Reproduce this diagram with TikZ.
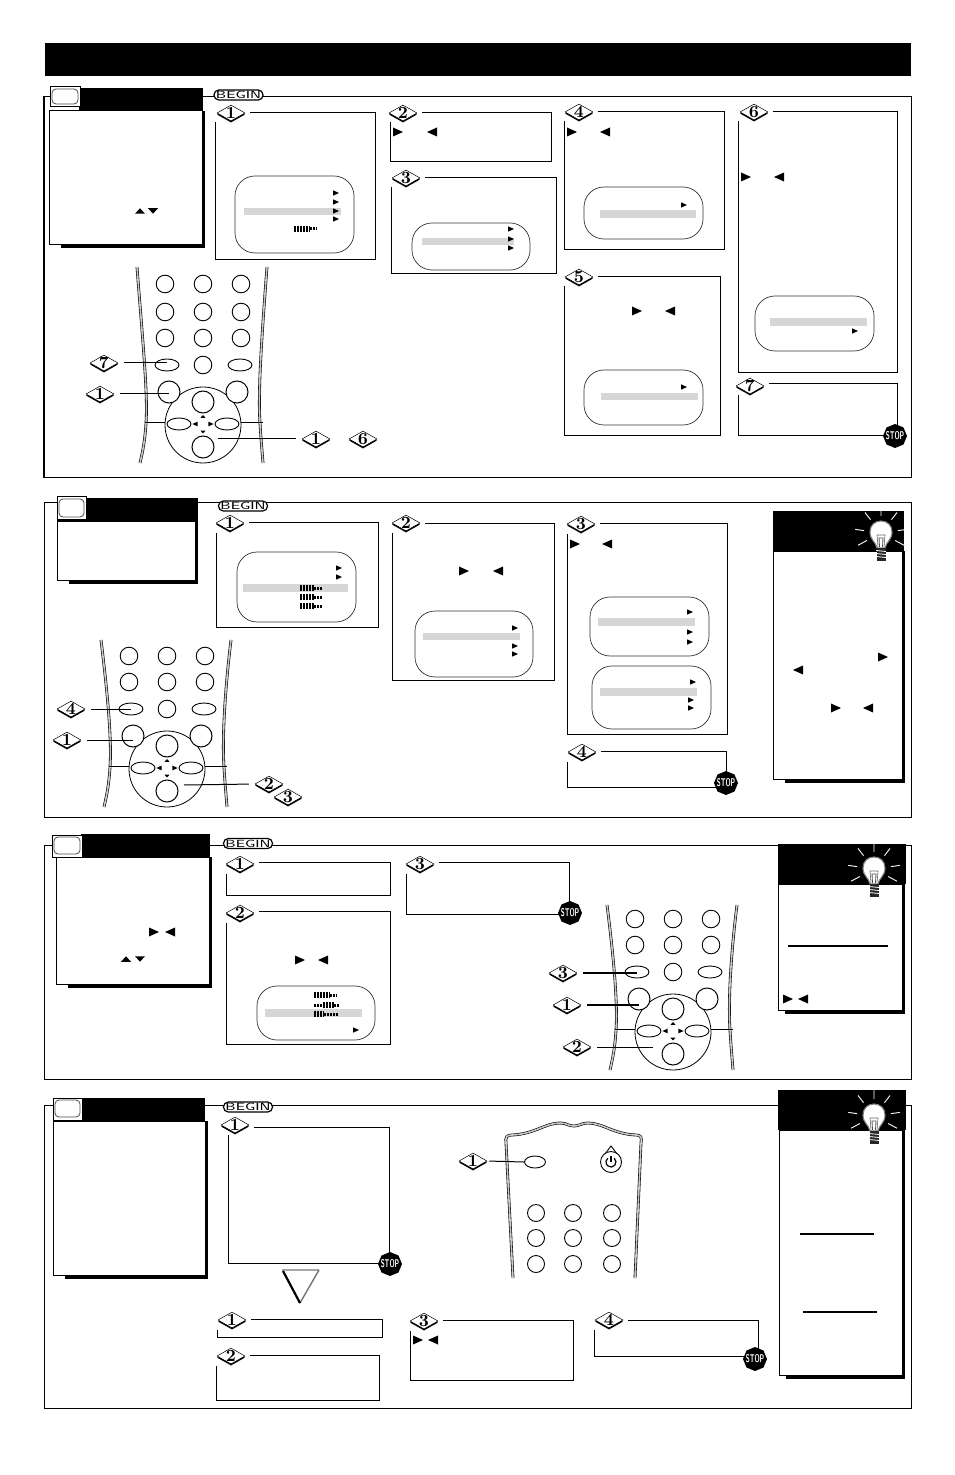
\documentclass[tikz,border=0pt]{standalone}
\usepackage{xcolor}
\usepackage{tikz}
\usetikzlibrary{shapes.geometric, positioning, calc, fit}
\definecolor{menuGray}{RGB}{214,214,214}
\definecolor{railGray}{RGB}{200,200,200}

\tikzset{
    sectionframe/.style={draw, line width=0.5pt, inner sep=0pt},
    framebar/.style={line width=0.9pt},
    stepcard/.style={draw, line width=0.5pt, inner sep=0pt},
    badgegap/.style={rectangle, fill=white, minimum width=19pt, minimum height=9.5pt, inner sep=0pt},
    badgeshade/.style={diamond, fill=black, minimum width=14pt, minimum height=8pt, inner sep=0pt},
    badge/.style={diamond, draw, line width=0.25pt, fill=white, minimum width=14pt, minimum height=8pt, inner sep=0pt},
    badgenum/.style={font=\fontsize{8.5}{8.5}\selectfont\bfseries, inner sep=0pt},
    menubox/.style={draw=black!80, line width=0.35pt, rounded corners=10pt, inner sep=0pt},
    menubar/.style={fill=menuGray, inner sep=0pt},
    panelshade/.style={fill=black, inner sep=0pt},
    panelbody/.style={draw, fill=white, line width=0.5pt, inner sep=0pt},
    panelhead/.style={fill=black, inner sep=0pt},
    tvcase/.style={draw, fill=white, line width=0.5pt, inner sep=0pt},
    tvscreen/.style={draw=black!70, fill=white, line width=0.4pt, rounded corners=2pt, inner sep=0pt},
    beginpill/.style={draw, fill=white, line width=0.6pt, rounded corners=2.4pt, minimum width=24.5pt, minimum height=5pt, inner sep=0pt, font=\fontsize{5.2}{5.2}\selectfont\sffamily},
    stopsign/.style={regular polygon, regular polygon sides=8, shape border rotate=22.5, fill=black, minimum size=12pt, inner sep=0pt},
    stopword/.style={text=white, inner sep=0pt, font=\fontsize{5.6}{5.6}\selectfont\sffamily\bfseries},
    keyround/.style={circle, draw, fill=white, line width=0.45pt, minimum size=8.8pt, inner sep=0pt},
    keywide/.style={ellipse, draw, fill=white, line width=0.45pt, minimum width=12pt, minimum height=6pt, inner sep=0pt},
    keyfat/.style={circle, draw, fill=white, line width=0.5pt, minimum size=11pt, inner sep=0pt},
    keydial/.style={circle, draw, fill=white, line width=0.4pt, minimum size=38pt, inner sep=0pt},
    rail/.style={draw=black, line width=0.3pt, double=railGray, double distance=0.8pt},
    leader/.style={line width=0.5pt, shorten <=3pt},
    heavyleader/.style={line width=0.8pt, shorten <=3pt},
    rule/.style={line width=0.8pt}
}

% triangles, size in picture units
\newcommand{\tipR}[2]{\fill #1 ++(-#2,-0.9*#2) -- ++(2*#2,0.9*#2) -- ++(-2*#2,0.9*#2) -- cycle;}
\newcommand{\tipL}[2]{\fill #1 ++(#2,-0.9*#2) -- ++(-2*#2,0.9*#2) -- ++(2*#2,0.9*#2) -- cycle;}
\newcommand{\tipU}[2]{\fill #1 ++(-#2,0.55*#2) -- ++(#2,-1.1*#2) -- ++(#2,1.1*#2) -- cycle;}
\newcommand{\tipD}[2]{\fill #1 ++(-#2,-0.55*#2) -- ++(#2,1.1*#2) -- ++(#2,-1.1*#2) -- cycle;}

% numbered diamond
\newcommand{\tagmark}[3]{
    \node[badgeshade] (#1s) at ($#2+(0,1.6)$) {};
    \node[badge] (#1) at #2 {};
    \node[badgenum] (#1n) at #2 {#3};
}
% box with its diamond on the corner
\newcommand{\stepbox}[5]{
    \node[stepcard, fit={#2 #3}] (#1) {};
    \node[badgegap] (#1g) at #4 {};
    \tagmark{#1t}{#4}{#5}
}
% stop sign
\newcommand{\stopat}[2]{
    \node[stopsign] (#1) at #2 {};
    \node[stopword] (#1w) at #2 {\scalebox{0.58}[1]{STOP}};
}
% black header, white body, thick shadow
\newcommand{\infopanel}[6][12]{
    \node[panelshade, fit={($#5+(#1,0)$) ($#6+(3,3.5)$)}] (#2s) {};
    \node[panelbody, fit={#5 #6}] (#2) {};
    \node[panelhead, fit={#3 #4}] (#2h) {};
}
\newcommand{\tvicon}[3]{
    \node[tvcase, fit={#2 #3}] (#1) {};
    \node[tvscreen, fit={($#2+(2,2)$) ($#3+(-2,-3)$)}] (#1i) {};
}
\newcommand{\levelbar}[4]{
    \draw[line width=1.5pt, dash pattern=on 1pt off 0.5pt] #1 ++(0,0) -- ++(#2,0);
    \draw[line width=3pt, dash pattern=on 1pt off 0.5pt] #1 ++(#2,0) -- ++(#3,0);
    \draw[line width=1.5pt, dash pattern=on 1pt off 0.5pt] #1 ++(#2+#3,0) -- ++(#4,0);
}
\newcommand{\bulbat}[2]{
    \begin{scope}[shift={#2}]
        \draw[white, line width=0.45pt] (-90:17) -- (-90:27) (-52:17) -- (-52:26) (-128:17) -- (-128:26) (-8:17) -- (-8:26) (-172:17) -- (-172:26) (28:16) -- (28:26) (152:16) -- (152:26);
        \draw[draw=black!50, fill=white, line width=0.55pt] (-4,15) .. controls (-5,9) and (-11,7) .. (-11,-1) .. controls (-11,-8) and (-6,-12) .. (0,-12) .. controls (6,-12) and (11,-8) .. (11,-1) .. controls (11,7) and (5,9) .. (4,15) -- cycle;
        \draw[black!60, line width=0.3pt] (-3,14) -- (-4,2) -- (4,2) -- (3,14);
        \draw[black!70, line width=0.4pt] (-1.5,14) -- (-2,5) -- (2,5) -- (1.5,14);
        \fill[black!85] (-4.5,15) rectangle (4.5,28);
        \draw[white, line width=0.4pt] (-5,17.5) -- (5,18.5) (-5,20.5) -- (5,21.5) (-5,23.5) -- (5,24.5);
    \end{scope}
}
% pad shared by three remotes
\newcommand{\remotepad}[3]{
    \begin{scope}[shift={#2}]
        \draw[rail] (-66,#3) .. controls (-60,-80) and (-55,-30) .. (-57,-2) .. controls (-58,15) and (-60,25) .. (-63,38);
        \draw[rail] (64,#3) .. controls (58,-80) and (55,-30) .. (57,-2) .. controls (58,15) and (59,25) .. (60,38);
        \node[keyround] (#1a) at (-38,-113) {};
        \node[keyround] (#1b) at (0,-113) {};
        \node[keyround] (#1c) at (38,-113) {};
        \node[keyround] (#1d) at (-38,-87) {};
        \node[keyround] (#1e) at (0,-87) {};
        \node[keyround] (#1f) at (38,-87) {};
        \node[keywide] (#1g) at (-36,-60) {};
        \node[keyround] (#1h) at (0,-60) {};
        \node[keywide] (#1i) at (37,-60) {};
        \node[keydial] (#1dial) at (0,0) {};
        \node[keyfat] (#1sl) at (-34,-33) {};
        \node[keyfat] (#1sr) at (34,-33) {};
        \node[keyfat] (#1up) at (0,-23) {};
        \node[keyfat] (#1dn) at (0,22) {};
        \node[keywide] (#1lt) at (-24,-1) {};
        \node[keywide] (#1rt) at (24,-1) {};
        \tipU{(0,-8.5)}{2.6}
        \tipD{(0,7)}{2.6}
        \tipL{(-8,-1)}{2.6}
        \tipR{(8,-1)}{2.6}
        \draw[line width=0.5pt] (#1dial.176) -- ++(-20,0);
        \draw[line width=0.5pt] (#1dial.4) -- ++(22,0);
    \end{scope}
}

\begin{document}
\begin{tikzpicture}[x=0.5pt, y=-0.5pt]
    \useasboundingbox (0,0) rectangle (954,1475);

    \node[panelhead, fit={(45,43) (911,76)}] (titlebar) {};

    % Section frames
    \node[sectionframe, fit={(44,97) (911,478)}] (frameA) {};
    \draw[framebar] (frameA.north west) -- (frameA.south west);
    \node[sectionframe, fit={(44,503) (911,817)}] (frameB) {};
    \node[sectionframe, fit={(44,845) (911,1079)}] (frameC) {};
    \node[sectionframe, fit={(44,1105) (911,1408)}] (frameD) {};
    \draw[framebar] (frameD.south west) -- (frameD.south east);

    % First section
    \infopanel{panA}{(79,88)}{(203,111)}{(49,111)}{(202,245)}
    \tvicon{tvA}{(50,87)}{(80,107)}
    \tipU{(140,211)}{5}
    \tipD{(153,211)}{5}
    \node[beginpill] (beginA) at (238.5,95) {\scalebox{1.4}[1]{BEGIN}};

    \stepbox{boxAa}{(215,113)}{(375,260)}{(231,113)}{1}
    \node[menubox, fit={(235,176) (354,253)}] (menuAa) {};
    \node[menubar, fit={(244,208) (341,215)}] (barAa) {};
    \tipR{(336,193)}{3}
    \tipR{(336,202)}{3}
    \tipR{(336,211)}{3}
    \tipR{(336,219)}{3}
    \levelbar{(294,229)}{0}{16}{7}

    \stepbox{boxAb}{(390,113)}{(551,162)}{(403,113)}{2}
    \tipR{(398,132)}{5}
    \tipL{(432,132)}{5}

    \stepbox{boxAc}{(391,178)}{(556,274)}{(406,178)}{3}
    \node[menubox, fit={(412,223) (530,270)}] (menuAc) {};
    \node[menubar, fit={(422,238) (514,245)}] (barAc) {};
    \tipR{(511,229)}{3}
    \tipR{(511,239)}{3}
    \tipR{(511,248)}{3}

    \stepbox{boxAd}{(564,112)}{(724,250)}{(579,112)}{4}
    \tipR{(572,132)}{5}
    \tipL{(605,132)}{5}
    \node[menubox, fit={(584,187) (703,239)}] (menuAd) {};
    \node[menubar, fit={(600,210) (696,218)}] (barAd) {};
    \tipR{(684,205)}{3}

    \stepbox{boxAe}{(564,277)}{(720,436)}{(579,277)}{5}
    \tipR{(637,311)}{5}
    \tipL{(670,311)}{5}
    \node[menubox, fit={(584,370) (703,425)}] (menuAe) {};
    \node[menubar, fit={(601,393) (698,400)}] (barAe) {};
    \tipR{(684,387)}{3}

    \stepbox{boxAf}{(738,112)}{(897,373)}{(754,112)}{6}
    \tipR{(746,177)}{5}
    \tipL{(779,177)}{5}
    \node[menubox, fit={(755,296) (874,351)}] (menuAf) {};
    \node[menubar, fit={(770,318) (867,326)}] (barAf) {};
    \tipR{(855,331)}{3}

    \stepbox{boxAg}{(738,384)}{(897,436)}{(750,386)}{7}
    \stopat{stopA}{(895,436)}

    % First remote
    \remotepad{keyA}{(203,425)}{-158}
    \node[keyround] (keyAx) at (165,284) {};
    \node[keyround] (keyAy) at (203,284) {};
    \node[keyround] (keyAz) at (241,284) {};
    \tagmark{callAg}{(104,363)}{7}
    \draw[leader] (callAg.east) -- (callAg.east -| keyAg.center);
    \tagmark{callAa}{(100,394)}{1}
    \draw[leader] (callAa.east) -- (callAa.east -| keyAsl.center);
    \tagmark{callAb}{(316,439)}{1}
    \coordinate (hitA) at (218,439);
    \draw[leader] (callAb.west) -- (hitA);
    \tagmark{callAf}{(363,439)}{6}

    % Second section
    \infopanel{panB}{(85,498)}{(198,521)}{(57,521)}{(195,580)}
    \tvicon{tvB}{(57,497)}{(86,520)}
    \node[beginpill] (beginB) at (243,506) {\scalebox{1.4}[1]{BEGIN}};

    \stepbox{boxBa}{(216,522)}{(378,627)}{(230,523)}{1}
    \node[menubox, fit={(237,552) (356,622)}] (menuBa) {};
    \node[menubar, fit={(243,584) (348,592)}] (barBa) {};
    \tipR{(339,568)}{3}
    \tipR{(339,577)}{3}
    \levelbar{(300,588)}{0}{14}{8}
    \levelbar{(300,597)}{0}{14}{8}
    \levelbar{(300,606)}{0}{14}{8}

    \stepbox{boxBb}{(392,523)}{(554,680)}{(406,523)}{2}
    \tipR{(464,571)}{5}
    \tipL{(498,571)}{5}
    \node[menubox, fit={(415,611) (533,677)}] (menuBb) {};
    \node[menubar, fit={(423,633) (520,640)}] (barBb) {};
    \tipR{(515,628)}{3}
    \tipR{(515,646)}{3}
    \tipR{(515,654)}{3}

    \stepbox{boxBc}{(567,523)}{(727,734)}{(581,524)}{3}
    \tipR{(575,544)}{5}
    \tipL{(607,544)}{5}
    \node[menubox, fit={(590,597) (709,656)}] (menuBc) {};
    \node[menubar, fit={(598,618) (695,626)}] (barBc) {};
    \tipR{(690,612)}{3}
    \tipR{(690,632)}{3}
    \tipR{(690,642)}{3}
    \node[menubox, fit={(592,666) (711,729)}] (menuBd) {};
    \node[menubar, fit={(600,688) (697,696)}] (barBd) {};
    \tipR{(693,682)}{3}
    \tipR{(691,700)}{3}
    \tipR{(691,708)}{3}

    \stepbox{boxBd}{(567,751)}{(726,787)}{(582,752)}{4}
    \stopat{stopB}{(726,783)}

    \infopanel{hintA}{(773,511)}{(904,551)}{(773,551)}{(902,779)}
    \bulbat{bulbA}{(881,533)}
    \tipR{(883,657)}{5}
    \tipL{(798,670)}{5}
    \tipR{(836,708)}{5}
    \tipL{(868,708)}{5}

    % Second remote
    \remotepad{keyB}{(167,769)}{-129}
    \tagmark{callBd}{(71,709)}{4}
    \draw[leader] (callBd.east) -- (callBd.east -| keyBg.center);
    \tagmark{callBa}{(67,740)}{1}
    \draw[leader] (callBa.east) -- (callBa.east -| keyBsl.center);
    \tagmark{callBb}{(269,784)}{2}
    \coordinate (hitB) at (184,785);
    \draw[leader] (callBb.west) -- (hitB);
    \tagmark{callBc}{(288,797)}{3}

    % Third section
    \infopanel{panC}{(81,834)}{(210,857)}{(56,857)}{(209,984)}
    \tvicon{tvC}{(52,835)}{(82,857)}
    \tipR{(154,932)}{5}
    \tipL{(170,932)}{5}
    \tipU{(126,959)}{5}
    \tipD{(140,959)}{5}
    \node[beginpill] (beginC) at (248,843.5) {\scalebox{1.4}[1]{BEGIN}};

    \stepbox{boxCa}{(226,862)}{(390,895)}{(240,864)}{1}
    \stepbox{boxCb}{(226,911)}{(390,1044)}{(240,913)}{2}
    \tipR{(300,960)}{5}
    \tipL{(323,960)}{5}
    \node[menubox, fit={(257,986) (375,1040)}] (menuCb) {};
    \node[menubar, fit={(265,1009) (362,1017)}] (barCb) {};
    \levelbar{(314,995)}{0}{16}{7}
    \levelbar{(314,1005)}{9}{11}{6}
    \levelbar{(314,1014)}{0}{10}{14}
    \tipR{(356,1030)}{3}

    \stepbox{boxCc}{(406,862)}{(569,914)}{(420,864)}{3}
    \stopat{stopC}{(570,913)}

    \infopanel[7]{hintB}{(778,844)}{(906,884)}{(778,884)}{(902,1010)}
    \bulbat{bulbB}{(874,869)}
    \draw[rule] (788,946) -- (888,946);
    \tipR{(788,999)}{5}
    \tipL{(803,999)}{5}

    % Third remote
    \remotepad{keyC}{(673,1032)}{-127}
    \tagmark{callCc}{(563,973)}{3}
    \draw[heavyleader] (callCc.east) -- (callCc.east -| keyCg.center);
    \tagmark{callCa}{(567,1005)}{1}
    \draw[heavyleader] (callCa.east) -- (callCa.east -| keyCsl.center);
    \tagmark{callCb}{(577,1047)}{2}
    \coordinate (hitC) at (653,1047);
    \draw[leader] (callCb.east) -- (hitC);

    % Fourth section
    \infopanel{panD}{(82,1098)}{(205,1121)}{(53,1121)}{(205,1275)}
    \tvicon{tvD}{(53,1098)}{(82,1120)}
    \node[beginpill] (beginD) at (248,1107) {\scalebox{1.4}[1]{BEGIN}};

    \stepbox{boxDa}{(228,1127)}{(389,1263)}{(235,1125)}{1}
    \stopat{stopD}{(390,1264)}

    % arrow to the lower row
    \fill[white] (282,1270) -- (319,1270) -- (300,1303) -- cycle;
    \draw[black!35, line width=0.7pt] (282,1270) -- (319,1270);
    \draw[black!55, line width=0.7pt] (319,1270) -- (300,1303);
    \draw[line width=1.1pt] (283,1271) -- (300,1303);

    \stepbox{boxDb}{(217,1319)}{(382,1337)}{(232,1320)}{1}
    \stepbox{boxDc}{(216,1355)}{(379,1400)}{(231,1356)}{2}
    \stepbox{boxDd}{(410,1320)}{(573,1380)}{(424,1321)}{3}
    \tipR{(418,1340)}{5}
    \tipL{(433,1340)}{5}
    \stepbox{boxDe}{(594,1320)}{(758,1356)}{(609,1320)}{4}
    \stopat{stopE}{(755,1359)}

    \infopanel[7]{hintC}{(778,1090)}{(906,1130)}{(779,1130)}{(902,1375)}
    \bulbat{bulbC}{(874,1116)}
    \draw[rule] (800,1234) -- (874,1234);
    \draw[rule] (803,1312) -- (877,1312);

    % Fourth remote
    \draw[rail] (513,1278) -- (506,1143) .. controls (505,1137) and (507,1135) .. (512,1135) .. controls (535,1134) and (545,1123) .. (560,1123) .. controls (567,1123) and (568,1126) .. (574,1126) .. controls (580,1126) and (581,1123) .. (588,1123) .. controls (603,1123) and (613,1134) .. (636,1135) .. controls (641,1135) and (642,1137) .. (641,1143) -- (635,1278);
    \node[keywide, minimum width=10.5pt] (keyDm) at (535,1162) {};
    \draw[fill=white, line width=0.45pt] (605,1154) -- (611,1146) -- (617,1154) -- cycle;
    \node[keyround, minimum size=10.5pt] (keyDp) at (611,1162) {};
    \draw[line width=0.6pt] ($(keyDp.center)+(3.2,-3.8)$) arc[start angle=-50, end angle=230, radius=5];
    \draw[line width=0.6pt] (keyDp.center) -- ++(0,-6);
    \node[keyround, minimum size=8.5pt] (keyDa) at (536,1213) {};
    \node[keyround, minimum size=8.5pt] (keyDb) at (573,1213) {};
    \node[keyround, minimum size=8.5pt] (keyDc) at (612,1213) {};
    \node[keyround, minimum size=8.5pt] (keyDd) at (536,1238) {};
    \node[keyround, minimum size=8.5pt] (keyDe) at (573,1238) {};
    \node[keyround, minimum size=8.5pt] (keyDf) at (612,1238) {};
    \node[keyround, minimum size=8.5pt] (keyDg) at (536,1264) {};
    \node[keyround, minimum size=8.5pt] (keyDh) at (573,1264) {};
    \node[keyround, minimum size=8.5pt] (keyDi) at (612,1264) {};
    \tagmark{callDa}{(473,1161)}{1}
    \draw[leader, shorten <=1pt] (callDa.east) -- (keyDm.west);
\end{tikzpicture}
\end{document}
